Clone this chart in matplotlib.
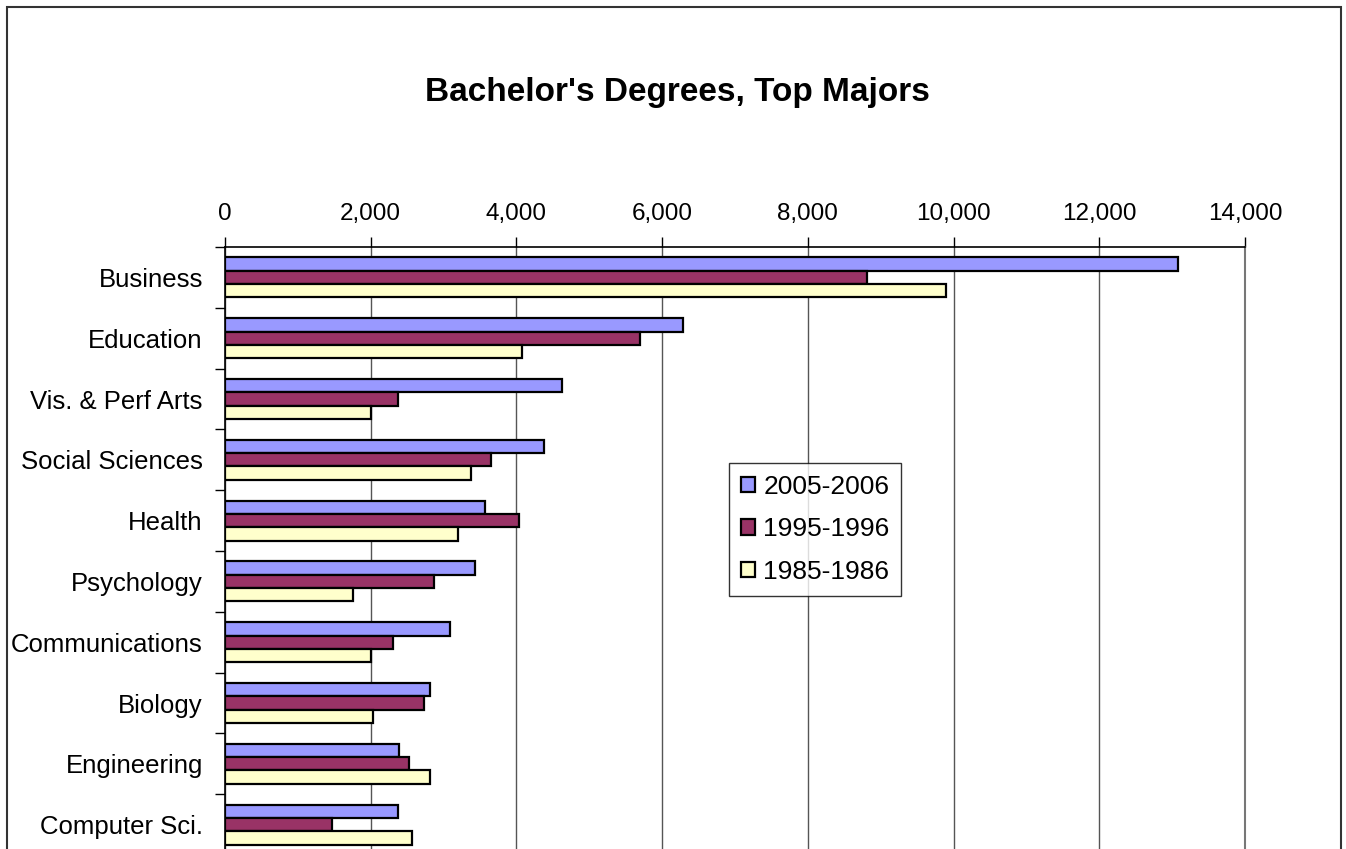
import matplotlib
matplotlib.use("Agg")
import matplotlib.pyplot as plt
from matplotlib.patches import Rectangle
from matplotlib.ticker import FuncFormatter
import numpy as np

plt.rcParams['font.family'] = ['Liberation Sans', 'DejaVu Sans']

categories = ["Business", "Education", "Vis. & Perf Arts", "Social Sciences", "Health",
              "Psychology", "Communications", "Biology", "Engineering", "Computer Sci."]
series_names = ["2005-2006", "1995-1996", "1985-1986"]
v2005 = [13080, 6280, 4620, 4380, 3570, 3430, 3090, 2810, 2390, 2370]
v1995 = [8810, 5690, 2370, 3650, 4040, 2870, 2310, 2730, 2530, 1470]
v1985 = [9900, 4070, 2000, 3370, 3200, 1750, 2000, 2030, 2810, 2560]
colors = ["#9999FF", "#993366", "#FFFFCC"]
x_ticks = [0, 2000, 4000, 6000, 8000, 10000, 12000, 14000]

W, H = 1346, 849
fig = plt.figure(figsize=(W / 100, H / 100), dpi=100)
fig.patch.set_facecolor("white")

# outer border
fig.patches.append(Rectangle((7 / W, -0.05), (1341 - 7) / W, 1 - 7 / H + 0.05,
                             transform=fig.transFigure, fill=False,
                             edgecolor="#333333", linewidth=1.5, zorder=0))

ax = fig.add_axes([225 / W, (H - 855) / H, 1020 / W, (855 - 247) / H])

y = np.arange(len(categories))
h = 0.22
for i, (vals, name, c) in enumerate(zip([v2005, v1995, v1985], series_names, colors)):
    ax.barh(y + (i - 1) * h, vals, height=h, color=c, edgecolor="black",
            linewidth=1.6, label=name, zorder=3)

ax.set_xlim(0, 14000)
ax.set_ylim(len(categories) - 0.5, -0.5)
ax.set_xticks(x_ticks)
ax.xaxis.set_major_formatter(FuncFormatter(lambda v, p: f"{int(v):,}"))
ax.xaxis.tick_top()
ax.tick_params(axis='x', which='major', direction='out', length=7, width=1,
               labelsize=17.5, pad=9, color="black")
ax.set_yticks(y)
ax.set_yticklabels(categories)
ax.set_yticks(np.arange(-0.5, len(categories) + 0.5, 1), minor=True)
ax.tick_params(axis='y', which='major', length=0, labelsize=18.5, pad=16)
ax.tick_params(axis='y', which='minor', length=7, width=1, color="black")
ax.grid(axis='x', color="#555555", linewidth=1, zorder=0)
ax.set_axisbelow(True)
ax.spines["bottom"].set_visible(False)
ax.spines["right"].set_color("#777777")
ax.spines["right"].set_linewidth(1.5)
ax.spines["top"].set_linewidth(1.2)
ax.spines["left"].set_linewidth(1.2)

leg = ax.legend(loc="upper left", bbox_to_anchor=((729 - 225) / 1020, (855 - 463) / (855 - 247)),
                fontsize=19, frameon=True, fancybox=False, edgecolor="black",
                handlelength=0.55, handleheight=0.55, handletextpad=0.3,
                labelspacing=0.7, borderpad=0.45, borderaxespad=0)
leg.get_frame().set_linewidth(1)
leg.set_zorder(5)

fig.text(677.5 / W, 1 - 93 / H, "Bachelor's Degrees, Top Majors", ha="center", va="center",
         fontsize=24, fontweight="bold")

fig.savefig("out.png", dpi=100)
